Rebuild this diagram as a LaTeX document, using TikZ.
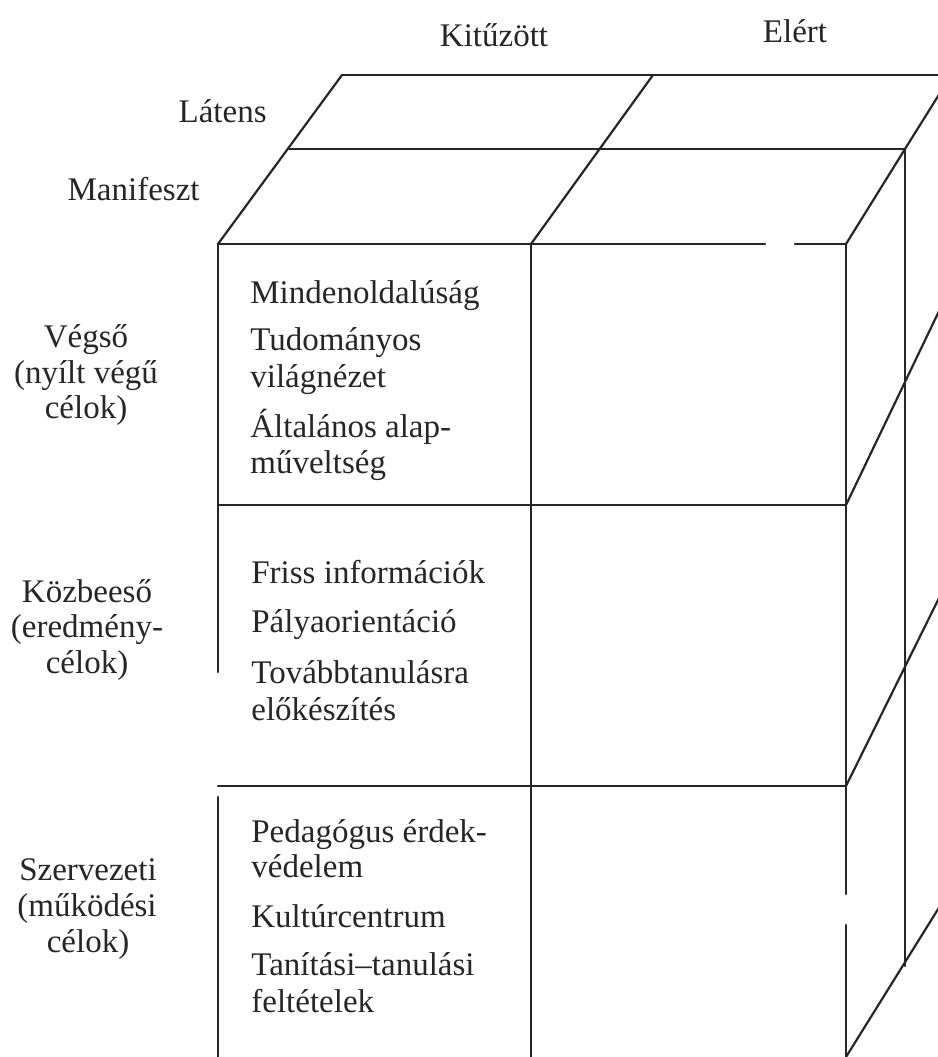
\documentclass[tikz,border=0pt]{standalone}
\usepackage{fontspec}
\setmainfont{Liberation Serif}
\begin{document}
\begin{tikzpicture}[x=0.5pt,y=-0.5pt,
  edge/.style={line width=1.1pt, draw=black!85, line cap=round},
  txt/.style={inner sep=0pt, anchor=base west, text=black!85,
              font=\fontsize{16.5}{19}\selectfont},
  ctr/.style={txt, anchor=base},
  rgt/.style={txt, anchor=base east}]
\useasboundingbox (0,0) rectangle (938,1057);
\clip (0,0) rectangle (938,1057);

% corner points of the cube
\coordinate (BL) at (342,75);
\coordinate (BM) at (653,75);
\coordinate (BR) at (945,75);
\coordinate (ML) at (289,149);
\coordinate (MR) at (905,149);
\coordinate (RT) at (940,93);
\coordinate (FL) at (218,244);
\coordinate (FM) at (531,244);
\coordinate (FR) at (846,244);
\coordinate (R1) at (846,505);
\coordinate (R2) at (846,786);
\coordinate (L1) at (218,505);
\coordinate (L2) at (218,786);
\coordinate (MB) at (905,966);

% top faces (Látens behind, Manifeszt in front)
\draw[edge] (BL) -- (BR);
\draw[edge] (ML) -- (MR);
\draw[edge] (FL) -- (765,244);
\draw[edge] (795,244) -- (FR);
\draw[edge] (BL) -- (FL);
\draw[edge] (BM) -- (FM);
\draw[edge] (RT) -- (MR) -- (FR);

% front face
\draw[edge] (FL) -- (218,672);
\draw[edge] (218,797) -- (218,1060);
\draw[edge] (FM) -- (531,1060);
\draw[edge] (FR) -- (846,894);
\draw[edge] (846,925) -- (846,1060);
\draw[edge] (L1) -- (R1);
\draw[edge] (L2) -- (R2);

% right side
\draw[edge] (MR) -- (MB);
\draw[edge] (R1) -- (940,309);
\draw[edge] (R2) -- (940,596);
\draw[edge] (846,1057) -- (940,906);

% column and layer labels
\node[ctr] (kit) at (494,46) {Kitűzött};
\node[ctr] (elert) at (795,42) {Elért};
\node[rgt] (latens) at (267,122) {Látens};
\node[rgt] (manif) at (200,200) {Manifeszt};

% row labels
\node[ctr] (v1) at (86,347) {Végső};
\node[ctr] (v2) at (86,383) {(nyílt végű};
\node[ctr] (v3) at (86,418) {célok)};
\node[ctr] (k1) at (87,602) {Közbeeső};
\node[ctr] (k2) at (87,637) {(eredmény-};
\node[ctr] (k3) at (87,673) {célok)};
\node[ctr] (s1) at (88,880) {Szervezeti};
\node[ctr] (s2) at (87,916) {(működési};
\node[ctr] (s3) at (88,952) {célok)};

% goals in the first column
\node[txt] (a1) at (250,303) {Mindenoldalúság};
\node[txt] (a2) at (250,350) {Tudományos};
\node[txt] (a3) at (250,387) {világnézet};
\node[txt] (a4) at (250,437) {Általános alap-};
\node[txt] (a5) at (250,473) {műveltség};

\node[txt] (b1) at (251,583) {Friss információk};
\node[txt] (b2) at (251,632) {Pályaorientáció};
\node[txt] (b3) at (251,683) {Továbbtanulásra};
\node[txt] (b4) at (251,720) {előkészítés};

\node[txt] (c1) at (251,842) {Pedagógus érdek-};
\node[txt] (c2) at (251,877) {védelem};
\node[txt] (c3) at (251,927) {Kultúrcentrum};
\node[txt] (c4) at (251,975) {Tanítási–tanulási};
\node[txt] (c5) at (251,1012) {feltételek};
\end{tikzpicture}
\end{document}
